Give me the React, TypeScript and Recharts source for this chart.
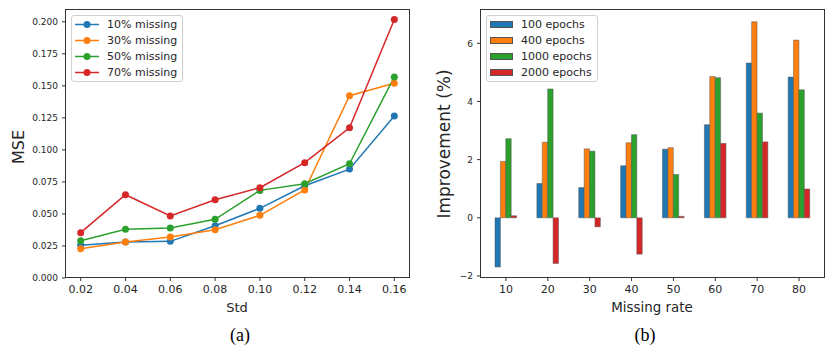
import React from 'react';
import { LineChart, Line, BarChart, Bar, XAxis, YAxis } from 'recharts';

const stdValues = [0.02, 0.04, 0.06, 0.08, 0.1, 0.12, 0.14, 0.16];
const missing10 = [0.0255, 0.0281, 0.0286, 0.0408, 0.0544, 0.072, 0.085, 0.1264];
const missing30 = [0.0229, 0.0281, 0.032, 0.0377, 0.0489, 0.0687, 0.1423, 0.1521];
const missing50 = [0.0291, 0.038, 0.039, 0.0458, 0.0684, 0.0736, 0.0892, 0.157];
const missing70 = [0.0354, 0.065, 0.0484, 0.0611, 0.0705, 0.09, 0.1173, 0.2018];
const mseTicks = [0, 0.025, 0.05, 0.075, 0.1, 0.125, 0.15, 0.175, 0.2];

const missingRates = ['10', '20', '30', '40', '50', '60', '70', '80'];
const epochs100 = [-1.69, 1.18, 1.04, 1.79, 2.36, 3.2, 5.32, 4.84];
const epochs400 = [1.94, 2.6, 2.37, 2.58, 2.41, 4.86, 6.74, 6.11];
const epochs1000 = [2.72, 4.43, 2.29, 2.86, 1.49, 4.82, 3.6, 4.4];
const epochs2000 = [0.07, -1.57, -0.31, -1.25, 0.05, 2.56, 2.61, 0.99];
const impTicks = [-2, 0, 2, 4, 6];

const C = ['#1f77b4', '#ff7f0e', '#2ca02c', '#d62728'];

const lineSeries = [
  { key: 'm10', name: '10% missing', values: missing10, color: C[0] },
  { key: 'm30', name: '30% missing', values: missing30, color: C[1] },
  { key: 'm50', name: '50% missing', values: missing50, color: C[2] },
  { key: 'm70', name: '70% missing', values: missing70, color: C[3] },
];
const barSeries = [
  { key: 'e100', name: '100 epochs', values: epochs100, color: C[0] },
  { key: 'e400', name: '400 epochs', values: epochs400, color: C[1] },
  { key: 'e1000', name: '1000 epochs', values: epochs1000, color: C[2] },
  { key: 'e2000', name: '2000 epochs', values: epochs2000, color: C[3] },
];

const lineData = stdValues.map((s, i) => {
  const row: any = { std: s };
  lineSeries.forEach((ls) => (row[ls.key] = ls.values[i]));
  return row;
});
const barData = missingRates.map((r, i) => {
  const row: any = { rate: r };
  barSeries.forEach((bs) => (row[bs.key] = bs.values[i]));
  return row;
});

const FONT = 'DejaVu Sans, sans-serif';
const TXT = '#262626';
const AX = '#333';

const abs = (s: React.CSSProperties): React.CSSProperties => ({ position: 'absolute', ...s });

function Frame({ left }: { left: number }) {
  return (
    <div
      style={abs({
        left: left + 65,
        top: 9,
        width: 345,
        height: 269,
        border: `1px solid ${AX}`,
        boxSizing: 'border-box',
        pointerEvents: 'none',
      })}
    />
  );
}

function LegendBox({ left, items, kind }: { left: number; items: any[]; kind: 'line' | 'bar' }) {
  return (
    <div
      style={abs({
        left,
        top: 15,
        width: 112,
        height: 67,
        border: '1px solid #d0d0d0',
        borderRadius: 3,
        background: 'rgba(255,255,255,0.85)',
        boxSizing: 'border-box',
      })}
    >
      {items.map((it, i) => (
        <div key={it.key} style={abs({ left: 0, top: 1 + i * 16, height: 16, width: 110 })}>
          {kind === 'line' ? (
            <svg width={30} height={16} style={abs({ left: 2, top: 0 })}>
              <line x1={1} y1={7.5} x2={25} y2={7.5} stroke={it.color} strokeWidth={1.5} />
              <circle cx={13} cy={7.5} r={3.5} fill={it.color} />
            </svg>
          ) : (
            <div
              style={abs({
                left: 3,
                top: 4,
                width: 23,
                height: 7,
                background: it.color,
                border: '1px solid #555',
                boxSizing: 'border-box',
              })}
            />
          )}
          <div
            style={abs({
              left: kind === 'line' ? 35 : 34,
              top: 0,
              fontFamily: FONT,
              fontSize: 11,
              lineHeight: '15px',
              color: TXT,
              whiteSpace: 'nowrap',
            })}
          >
            {it.name}
          </div>
        </div>
      ))}
    </div>
  );
}

const tickStyle = (size: number) => ({ fontSize: size, fill: TXT, fontFamily: FONT });
const minus = (v: number) => String(v).replace('-', '\u2212');

export default function App() {
  return (
    <div style={abs({ left: 0, top: 0, width: 830, height: 348, background: '#fff', overflow: 'hidden' })}>
      <div style={abs({ left: 0, top: 0 })}>
        <LineChart width={415} height={348} data={lineData} margin={{ top: 9, right: 5, bottom: 0, left: 0 }}>
          <XAxis
            dataKey="std"
            type="number"
            domain={[0.013, 0.167]}
            ticks={stdValues}
            tickFormatter={(v: number) => v.toFixed(2)}
            allowDataOverflow
            height={70}
            axisLine={false}
            tickLine={{ stroke: AX }}
            tickSize={3}
            tickMargin={4}
            tick={tickStyle(11)}
            interval={0}
          />
          <YAxis
            type="number"
            domain={[0, 0.21]}
            ticks={mseTicks}
            tickFormatter={(v: number) => v.toFixed(3)}
            allowDataOverflow
            width={65}
            axisLine={false}
            tickLine={{ stroke: AX }}
            tickSize={3}
            tickMargin={4}
            tick={tickStyle(9)}
            interval={0}
          />
          {lineSeries.map((s) => (
            <Line
              key={s.key}
              dataKey={s.key}
              name={s.name}
              stroke={s.color}
              strokeWidth={1.5}
              dot={{ r: 3.5, fill: s.color, stroke: s.color, strokeWidth: 0 }}
              activeDot={false}
              isAnimationActive={false}
              type="linear"
            />
          ))}
        </LineChart>
      </div>
      <Frame left={0} />
      <LegendBox left={71} items={lineSeries} kind="line" />

      <div style={abs({ left: 415, top: 0 })}>
        <BarChart
          width={415}
          height={348}
          data={barData}
          margin={{ top: 9, right: 5, bottom: 0, left: 0 }}
          barGap={0}
          barSize={5.4}
        >
          <XAxis
            dataKey="rate"
            padding={{ left: 5, right: 5 }}
            height={70}
            axisLine={false}
            tickLine={{ stroke: AX }}
            tickSize={3}
            tickMargin={4}
            tick={tickStyle(11)}
            interval={0}
          />
          <YAxis
            type="number"
            domain={[-2.07, 7.18]}
            ticks={impTicks}
            tickFormatter={minus}
            allowDataOverflow
            width={65}
            axisLine={false}
            tickLine={{ stroke: AX }}
            tickSize={3}
            tickMargin={4}
            tick={tickStyle(9)}
            interval={0}
          />
          {barSeries.map((s) => (
            <Bar
              key={s.key}
              dataKey={s.key}
              name={s.name}
              fill={s.color}
              stroke="#555"
              strokeWidth={0.5}
              isAnimationActive={false}
            />
          ))}
        </BarChart>
      </div>
      <Frame left={415} />
      <LegendBox left={486} items={barSeries} kind="bar" />

      {/* axis titles */}
      <div
        style={abs({
          left: 18,
          top: 147,
          transform: 'translate(-50%, -50%) rotate(-90deg)',
          fontFamily: FONT,
          fontSize: 16,
          color: TXT,
          whiteSpace: 'nowrap',
        })}
      >
        MSE
      </div>
      <div
        style={abs({
          left: 444,
          top: 144,
          transform: 'translate(-50%, -50%) rotate(-90deg)',
          fontFamily: FONT,
          fontSize: 17,
          color: TXT,
          whiteSpace: 'nowrap',
        })}
      >
        Improvement (%)
      </div>
      <div
        style={abs({
          left: 237,
          top: 307,
          transform: 'translate(-50%, -50%)',
          fontFamily: FONT,
          fontSize: 13,
          color: TXT,
          whiteSpace: 'nowrap',
        })}
      >
        Std
      </div>
      <div
        style={abs({
          left: 652,
          top: 307,
          transform: 'translate(-50%, -50%)',
          fontFamily: FONT,
          fontSize: 13.4,
          color: TXT,
          whiteSpace: 'nowrap',
        })}
      >
        Missing rate
      </div>
      {/* captions */}
      <div
        style={abs({
          left: 240,
          top: 335,
          transform: 'translate(-50%, -50%)',
          fontFamily: 'Liberation Serif, serif',
          fontSize: 18,
          color: '#000',
          whiteSpace: 'nowrap',
        })}
      >
        (a)
      </div>
      <div
        style={abs({
          left: 645,
          top: 335,
          transform: 'translate(-50%, -50%)',
          fontFamily: 'Liberation Serif, serif',
          fontSize: 18,
          color: '#000',
          whiteSpace: 'nowrap',
        })}
      >
        (b)
      </div>
    </div>
  );
}
